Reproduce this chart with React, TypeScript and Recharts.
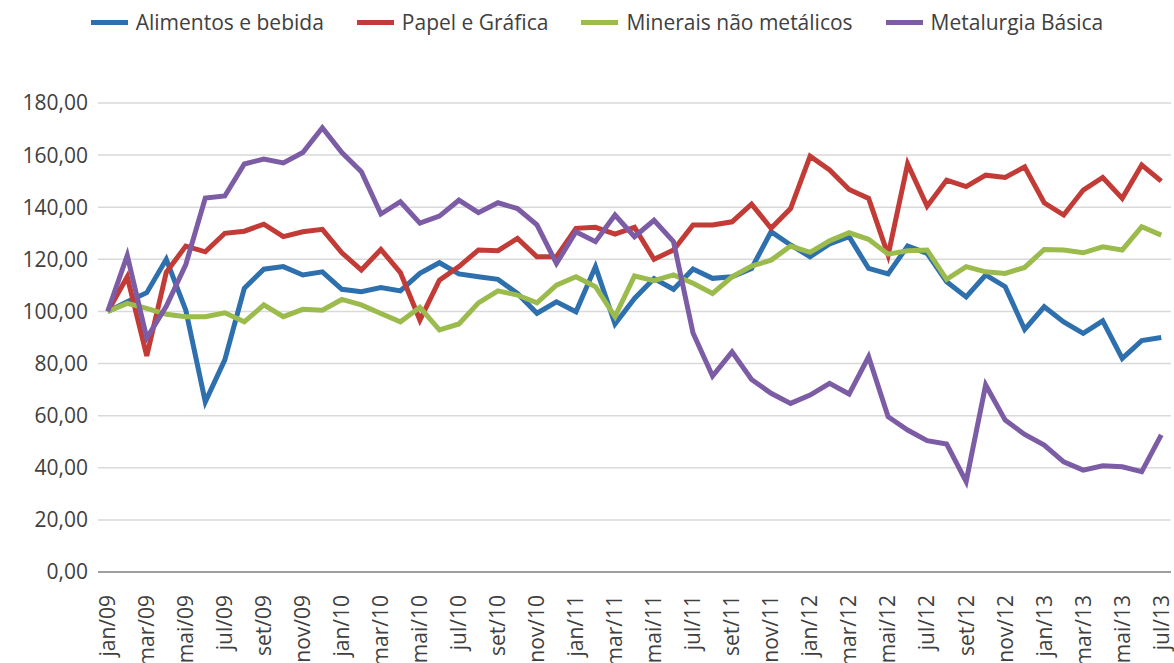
import { LineChart, Line, XAxis, YAxis, CartesianGrid } from 'recharts';

const monthNames = ['jan', 'fev', 'mar', 'abr', 'mai', 'jun', 'jul', 'ago', 'set', 'out', 'nov', 'dez'];
const years = ['09', '10', '11', '12', '13'];

// jan/09 .. jul/13
const months: string[] = [];
years.forEach((y) => monthNames.forEach((m) => months.push(`${m}/${y}`)));
const categories = months.slice(0, 55);

const alimentos = [
  100, 103.7, 107.2, 120, 100.5, 65.3, 81.4, 108.9, 116.2, 117.2, 114, 115.2,
  108.5, 107.6, 109.2, 107.9, 114.6, 118.7, 114.4, 113.3, 112.3, 106.9, 99.3, 103.7,
  99.9, 117.2, 95.2, 105, 112.6, 108.5, 116.3, 112.7, 113.3, 116.5, 130.6, 125.5,
  121, 125.9, 128.7, 116.5, 114.4, 125.1, 122.3, 111.4, 105.6, 114, 109.5, 93.1,
  101.8, 96, 91.6, 96.4, 82, 88.8, 90,
];

const papel = [
  100, 113.3, 82.9, 115, 125.1, 122.9, 130, 130.8, 133.5, 128.7, 130.6, 131.5,
  122.5, 115.9, 123.8, 114.9, 96.7, 112, 117.2, 123.6, 123.3, 128, 121, 121,
  131.9, 132.3, 129.7, 132.3, 120, 123.6, 133.2, 133.2, 134.4, 141.2, 131.9, 139.5,
  159.6, 154.3, 146.8, 143.4, 121.6, 156.6, 140.4, 150.4, 147.9, 152.3, 151.4, 155.5,
  141.7, 137, 146.6, 151.4, 143.4, 156.2, 150,
];

const minerais = [
  100, 103.1, 101.2, 98.9, 98, 98, 99.5, 96, 102.5, 98, 100.8, 100.5,
  104.6, 102.5, 99.2, 96, 101.6, 92.9, 95.2, 103.3, 107.9, 106.3, 103.3, 110.1,
  113.3, 109.5, 98, 113.6, 111.8, 114, 110.8, 106.9, 113.3, 117.4, 119.7, 125.1,
  122.7, 127.1, 130.2, 127.7, 122, 123.3, 123.6, 112.3, 117.2, 115.2, 114.6, 116.9,
  123.8, 123.6, 122.5, 124.8, 123.6, 132.5, 129.3,
];

const metalurgia = [
  100, 121.5, 89.8, 102, 118, 143.5, 144.3, 156.6, 158.5, 157, 161, 170.5,
  161, 153.6, 137.4, 142.1, 133.9, 136.6, 142.7, 137.9, 141.7, 139.5, 133.2, 118.4,
  130.6, 126.8, 137, 128.7, 135, 126.8, 91.7, 75.2, 84.5, 73.9, 68.6, 64.7,
  67.9, 72.4, 68.3, 82.6, 59.6, 54.5, 50.4, 49.1, 34.7, 71.8, 58.3, 52.8,
  48.7, 42.3, 39.1, 40.8, 40.4, 38.5, 52.6,
];

const yTicks = [0, 20, 40, 60, 80, 100, 120, 140, 160, 180];

const series = [
  { key: 'alimentos', name: 'Alimentos e bebida', color: '#2E6FAD' },
  { key: 'papel', name: 'Papel e Gráfica', color: '#C23B36' },
  { key: 'minerais', name: 'Minerais não metálicos', color: '#9BBB4D' },
  { key: 'metalurgia', name: 'Metalurgia Básica', color: '#7B5CA5' },
];

const data = categories.map((c, i) => ({
  month: c,
  alimentos: alimentos[i],
  papel: papel[i],
  minerais: minerais[i],
  metalurgia: metalurgia[i],
}));

const font = '"Open Sans", "Noto Sans", sans-serif';
const textColor = '#404040';

function MonthTick(props: any) {
  const { x, y, payload } = props;
  return (
    <text
      x={0}
      y={0}
      transform={`translate(${x},${y + 15}) rotate(-90)`}
      textAnchor="end"
      dy="0.35em"
      fontSize={21}
      fill={textColor}
      fontFamily={font}
    >
      {payload.value}
    </text>
  );
}

function Legend() {
  return (
    <div
      style={{
        position: 'absolute',
        top: 8,
        left: 0,
        width: 1194,
        display: 'flex',
        justifyContent: 'center',
        gap: 33,
        fontFamily: font,
        fontSize: 21,
        color: textColor,
      }}
    >
      {series.map((s) => (
        <div key={s.key} style={{ display: 'flex', alignItems: 'center', gap: 8 }}>
          <span style={{ display: 'inline-block', width: 37, height: 5, background: s.color }} />
          <span>{s.name}</span>
        </div>
      ))}
    </div>
  );
}

export default function App() {
  return (
    <div style={{ position: 'fixed', left: 0, top: 0, width: 1174, height: 663, background: '#fff' }}>
      <Legend />
      <LineChart
        width={1174}
        height={663}
        data={data}
        margin={{ top: 103, right: 3, bottom: 0, left: 0 }}
      >
        <CartesianGrid vertical={false} stroke="#D9D9D9" strokeWidth={1.5} />
        <XAxis
          dataKey="month"
          interval={1}
          tickLine={false}
          axisLine={{ stroke: '#898989', strokeWidth: 1.5 }}
          padding={{ left: 9.75, right: 9.75 }}
          height={91}
          tick={<MonthTick />}
        />
        <YAxis
          domain={[0, 180]}
          ticks={yTicks}
          width={98}
          tickLine={false}
          axisLine={false}
          tickMargin={4}
          tick={{ fontSize: 21, fill: textColor, fontFamily: font }}
          tickFormatter={(v: number) => v.toFixed(2).replace('.', ',')}
        />
        {series.map((s) => (
          <Line
            key={s.key}
            dataKey={s.key}
            name={s.name}
            stroke={s.color}
            strokeWidth={5}
            dot={false}
            activeDot={false}
            isAnimationActive={false}
          />
        ))}
      </LineChart>
    </div>
  );
}
